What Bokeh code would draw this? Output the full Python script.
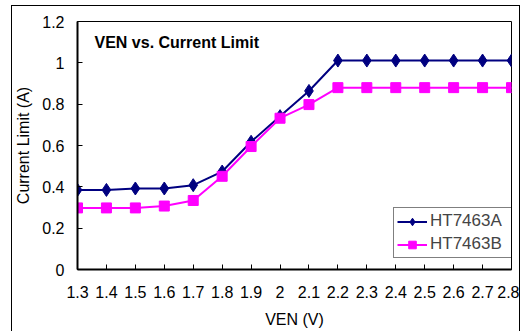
from bokeh.plotting import figure
from bokeh.models import FixedTicker, Label, Legend, LegendItem, Range1d
from bokeh.embed import file_html
from bokeh.resources import INLINE

ven = [1.3, 1.4, 1.5, 1.6, 1.7, 1.8, 1.9, 2.0, 2.1, 2.2, 2.3, 2.4, 2.5, 2.6, 2.7, 2.8]
x_labels = ["1.3", "1.4", "1.5", "1.6", "1.7", "1.8", "1.9", "2", "2.1", "2.2",
            "2.3", "2.4", "2.5", "2.6", "2.7", "2.8"]
ht7463a = [0.385, 0.385, 0.392, 0.392, 0.408, 0.474, 0.618, 0.742, 0.864, 1.011,
           1.011, 1.011, 1.011, 1.011, 1.011, 1.011]
ht7463b = [0.298, 0.298, 0.298, 0.307, 0.334, 0.451, 0.595, 0.732, 0.798, 0.880,
           0.880, 0.880, 0.880, 0.880, 0.880, 0.880]
y_ticks = [0, 0.2, 0.4, 0.6, 0.8, 1.0, 1.2]
y_labels = ["0", "0.2", "0.4", "0.6", "0.8", "1", "1.2"]

FONT = "Liberation Sans"

p = figure(width=509, height=328, output_backend="svg", toolbar_location=None,
           x_range=Range1d(1.3, 2.8), y_range=Range1d(0, 1.2),
           min_border_left=64, min_border_right=10, min_border_top=15,
           min_border_bottom=65)
p.styles = {"border": "1px solid #000000", "box-sizing": "border-box",
            "margin-left": "11px", "margin-top": "5px"}
p.xgrid.visible = False
p.ygrid.visible = False
p.outline_line_color = "#000000"
p.outline_line_width = 1
p.background_fill_color = "white"
p.border_fill_color = "white"

for ax in (p.xaxis[0], p.yaxis[0]):
    ax.axis_line_color = "#000000"
    ax.axis_line_width = 2
    ax.major_tick_in = 5
    ax.major_tick_out = 0
    ax.minor_tick_line_color = None
    ax.major_tick_line_color = "#000000"
    ax.major_label_text_font = FONT
    ax.major_label_text_font_size = "16px"
    ax.major_label_text_color = "#000000"
    ax.axis_label_text_font = FONT
    ax.axis_label_text_font_size = "16px"
    ax.axis_label_text_font_style = "normal"
    ax.axis_label_text_color = "#000000"

p.xaxis.ticker = FixedTicker(ticks=ven)
p.xaxis.major_label_overrides = {v: s for v, s in zip(ven, x_labels)}
p.xaxis.major_label_standoff = 16
p.xaxis.axis_label = "VEN (V)"
p.xaxis.axis_label_standoff = 10

p.yaxis.ticker = FixedTicker(ticks=y_ticks)
p.yaxis.major_label_overrides = {v: s for v, s in zip(y_ticks, y_labels)}
p.yaxis.major_label_standoff = 13
p.yaxis.axis_label = "Current Limit (A)"
p.yaxis.axis_label_standoff = 7

la = p.line(ven, ht7463a, line_color="#000080", line_width=2)
ma = p.scatter(ven, ht7463a, marker="diamond", size=13, fill_color="#000080",
               line_color="#000080")
lb = p.line(ven, ht7463b, line_color="#FF00FF", line_width=2)
mb = p.scatter(ven, ht7463b, marker="square", size=10, fill_color="#FF00FF",
               line_color="#FF00FF")

legend = Legend(items=[LegendItem(label="HT7463A", renderers=[la, ma]),
                       LegendItem(label="HT7463B", renderers=[lb, mb])],
                location=(316, 11), border_line_color="#000000",
                border_line_width=1, label_text_font=FONT,
                label_text_font_size="17px", glyph_width=30, glyph_height=19,
                label_standoff=3, label_width=78, padding=3, spacing=3,
                margin=0, background_fill_alpha=1)
p.add_layout(legend, "center")

title = Label(x=17, y=227, x_units="screen", y_units="screen",
              text="VEN vs. Current Limit", text_font=FONT,
              text_font_size="16px", text_font_style="bold",
              text_color="#000000", text_baseline="middle")
p.add_layout(title)

open("out.html", "w").write(file_html(p, INLINE))
